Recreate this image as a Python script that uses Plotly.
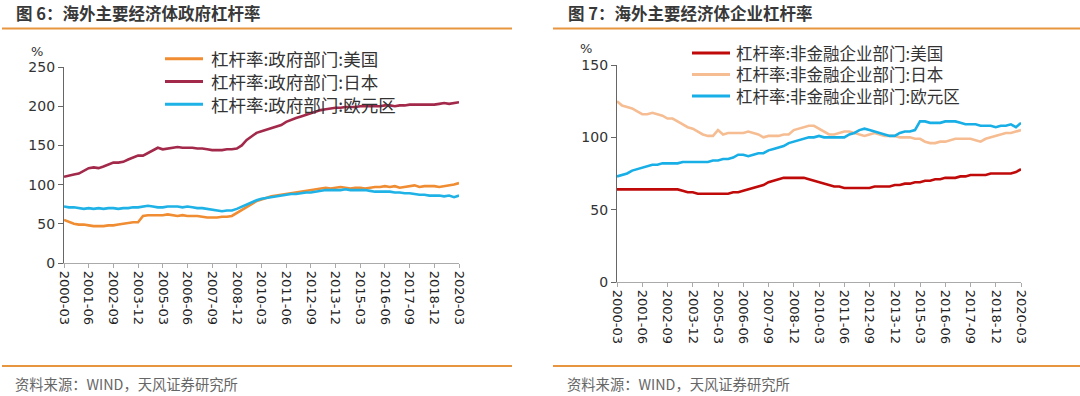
import plotly.graph_objects as go

# ---------------- data ----------------
quarters = [f"{y}-{m:02d}" for y in range(2000, 2021) for m in (3, 6, 9, 12)][:81]
tick_labels = ["2000-03", "2001-06", "2002-09", "2003-12", "2005-03", "2006-06", "2007-09",
               "2008-12", "2010-03", "2011-06", "2012-09", "2013-12", "2015-03", "2016-06",
               "2017-09", "2018-12", "2020-03"]

gov_us = [55, 52, 50, 49, 49, 48, 47, 47, 47, 48, 48, 49, 50, 51, 52, 52, 60, 61, 61, 61,
          61, 62, 61, 60, 61, 60, 60, 60, 59, 58, 58, 58, 59, 59, 60, 64, 68, 72, 76, 79,
          81, 83, 85, 86, 87, 88, 89, 90, 91, 92, 93, 94, 95, 96, 95, 96, 97, 96, 95, 96,
          96, 95, 96, 97, 97, 98, 97, 98, 96, 97, 98, 99, 97, 98, 98, 98, 97, 98, 99, 100, 102]
gov_jp = [110, 112, 113, 114, 117, 121, 122, 121, 123, 126, 128, 128, 129, 132, 135, 137, 137, 140, 144, 147,
          145, 146, 147, 148, 147, 147, 147, 146, 146, 145, 144, 144, 144, 145, 145, 146, 150, 157, 162, 166,
          168, 170, 171, 173, 176, 180, 183, 185, 187, 189, 191, 193, 195, 196, 197, 198, 198, 199, 199, 199,
          200, 200, 200, 200, 200, 201, 201, 200, 201, 201, 202, 202, 202, 202, 202, 202, 203, 204, 203, 204, 205]
gov_ea = [72, 71, 71, 70, 69, 70, 69, 70, 69, 70, 70, 69, 70, 70, 71, 71, 72, 73, 72, 71,
          71, 72, 72, 72, 71, 72, 71, 70, 70, 69, 68, 67, 66, 67, 67, 69, 72, 75, 78, 80,
          82, 83, 84, 85, 86, 87, 88, 88, 89, 90, 90, 91, 92, 93, 93, 93, 93, 94, 93, 93,
          93, 93, 92, 91, 91, 91, 91, 90, 90, 89, 89, 88, 87, 87, 86, 86, 86, 85, 86, 84, 86]

corp_us = [64, 64, 64, 64, 64, 64, 64, 64, 64, 64, 64, 64, 64, 63, 62, 62, 61, 61, 61, 61,
           61, 61, 61, 62, 62, 63, 64, 65, 66, 67, 69, 70, 71, 72, 72, 72, 72, 72, 71, 70,
           69, 68, 67, 66, 66, 65, 65, 65, 65, 65, 65, 66, 66, 66, 66, 67, 67, 68, 68, 69,
           69, 70, 70, 71, 71, 72, 72, 72, 73, 73, 74, 74, 74, 74, 75, 75, 75, 75, 75, 76, 78]
corp_jp = [125, 122, 121, 120, 118, 116, 116, 117, 116, 115, 113, 113, 111, 109, 107, 106, 104, 102, 101, 101,
           105, 102, 103, 103, 103, 103, 104, 103, 102, 100, 101, 101, 101, 102, 102, 105, 106, 107, 108, 108,
           106, 104, 102, 102, 103, 104, 104, 103, 102, 101, 102, 103, 102, 101, 101, 101, 100, 100, 100, 99,
           99, 97, 96, 96, 97, 97, 98, 99, 99, 99, 99, 98, 97, 99, 100, 101, 102, 103, 103, 104, 105]
corp_ea = [73, 74, 75, 77, 78, 79, 80, 81, 81, 82, 82, 82, 82, 83, 83, 83, 83, 83, 83, 84,
           84, 85, 85, 86, 88, 88, 87, 88, 89, 89, 91, 92, 93, 94, 96, 97, 98, 99, 100, 100,
           101, 100, 100, 100, 100, 100, 102, 103, 105, 106, 105, 104, 103, 102, 101, 101, 103, 104, 104, 105,
           111, 111, 110, 110, 110, 111, 111, 111, 110, 109, 109, 109, 108, 108, 108, 107, 108, 108, 109, 107, 110]

left_names = ["杠杆率:政府部门:美国", "杠杆率:政府部门:日本", "杠杆率:政府部门:欧元区"]
right_names = ["杠杆率:非金融企业部门:美国", "杠杆率:非金融企业部门:日本", "杠杆率:非金融企业部门:欧元区"]
left_colors = ["#F08C32", "#A3294B", "#1EB2E6"]
right_colors = ["#C00A0A", "#F6BD93", "#18AEE6"]

W, H = 1080, 396
def px(x):
    return x / W
def py(y):
    return 1 - y / H

CJK = "Noto Sans CJK SC"
NUM = "DejaVu Sans"

fig = go.Figure()

for vals, name, col in zip([gov_us, gov_jp, gov_ea], left_names, left_colors):
    fig.add_trace(go.Scatter(x=quarters, y=vals, name=name, mode="lines",
                             line=dict(color=col, width=2.6), xaxis="x", yaxis="y",
                             showlegend=False))
for vals, name, col in zip([corp_us, corp_jp, corp_ea], right_names, right_colors):
    fig.add_trace(go.Scatter(x=quarters, y=vals, name=name, mode="lines",
                             line=dict(color=col, width=2.6), xaxis="x2", yaxis="y2",
                             showlegend=False))

xaxis_common = dict(type="category", categoryorder="array", categoryarray=quarters,
                    tickmode="array", tickvals=tick_labels, ticktext=tick_labels,
                    tickangle=90, ticks="outside", ticklen=4, tickcolor="#aaaaaa",
                    showline=True, linecolor="#aaaaaa", linewidth=1.2, showgrid=False,
                    zeroline=False, range=[0, 80], automargin=False,
                    tickfont=dict(family=NUM, size=13, color="#222222"))
yaxis_common = dict(ticks="outside", ticklen=5, tickcolor="#666666", showline=True,
                    linecolor="#666666", linewidth=1.2, showgrid=False, zeroline=False,
                    automargin=False,
                    tickfont=dict(family=NUM, size=14, color="#333333"))

fig.update_layout(
    width=W, height=H, autosize=False,
    margin=dict(l=0, r=0, t=0, b=0, pad=0, autoexpand=False),
    paper_bgcolor="white", plot_bgcolor="white",
    showlegend=False,
    xaxis=dict(domain=[px(64), px(459)], anchor="y", **xaxis_common),
    yaxis=dict(domain=[py(263), py(67)], anchor="x", range=[0, 250], tickvals=[0, 50, 100, 150, 200, 250],
               **yaxis_common),
    xaxis2=dict(domain=[px(617), px(1021)], anchor="y2", **xaxis_common),
    yaxis2=dict(domain=[py(282), py(65)], anchor="x2", range=[0, 150], tickvals=[0, 50, 100, 150],
                **yaxis_common),
)

# legend drawn as sample lines + one multi-line label block per chart
shapes = []
ann = []
legend_specs = [
    # names, colours, line x0, line x1, text x, middle row y, font size
    (left_names, left_colors, 165, 203, 209, 81.5, 17.5),
    (right_names, right_colors, 692, 730, 734, 74.5, 16.5),
]
for names, colors, lx0, lx1, tx, mid, fs in legend_specs:
    gap = fs * 1.3
    for k, (name, col) in enumerate(zip(names, colors)):
        ry = mid + (k - 1) * gap
        shapes.append(dict(type="line", xref="paper", yref="paper", x0=px(lx0), x1=px(lx1),
                           y0=py(ry), y1=py(ry), line=dict(color=col, width=3)))
    ann.append(dict(text="<br>".join(names), x=px(tx), y=py(mid), xanchor="left", yanchor="middle",
                    align="left", font=dict(family=CJK, size=fs, color="#333333")))

for x0, x1 in [(2, 512), (553, 1080)]:
    for yy in (28.5, 366):
        shapes.append(dict(type="line", xref="paper", yref="paper", x0=px(x0), x1=px(x1),
                           y0=py(yy), y1=py(yy), line=dict(color="#E8953F", width=2)))
fig.update_layout(shapes=shapes)

ann += [
    dict(text="<b>图 6：海外主要经济体政府杠杆率</b>", x=px(14), y=py(13), xanchor="left", yanchor="middle",
         font=dict(family=CJK, size=16.5, color="#383838")),
    dict(text="<b>图 7：海外主要经济体企业杠杆率</b>", x=px(566), y=py(13), xanchor="left", yanchor="middle",
         font=dict(family=CJK, size=16.5, color="#383838")),
    dict(text="资料来源：WIND，天风证券研究所", x=px(13), y=py(383), xanchor="left", yanchor="middle",
         font=dict(family=CJK, size=14.3, color="#666666")),
    dict(text="资料来源：WIND，天风证券研究所", x=px(565), y=py(383), xanchor="left", yanchor="middle",
         font=dict(family=CJK, size=14.3, color="#666666")),
    dict(text="%", x=px(37), y=py(52), xanchor="center", yanchor="middle",
         font=dict(family=NUM, size=13, color="#333333")),
    dict(text="%", x=px(586), y=py(49), xanchor="center", yanchor="middle",
         font=dict(family=NUM, size=13, color="#333333")),
]
for a in ann:
    a.update(xref="paper", yref="paper", showarrow=False)
fig.update_layout(annotations=ann)

fig.write_html("out.html", config={"displayModeBar": False},
               post_script="document.body.style.margin='0';document.body.style.overflow='hidden';")
